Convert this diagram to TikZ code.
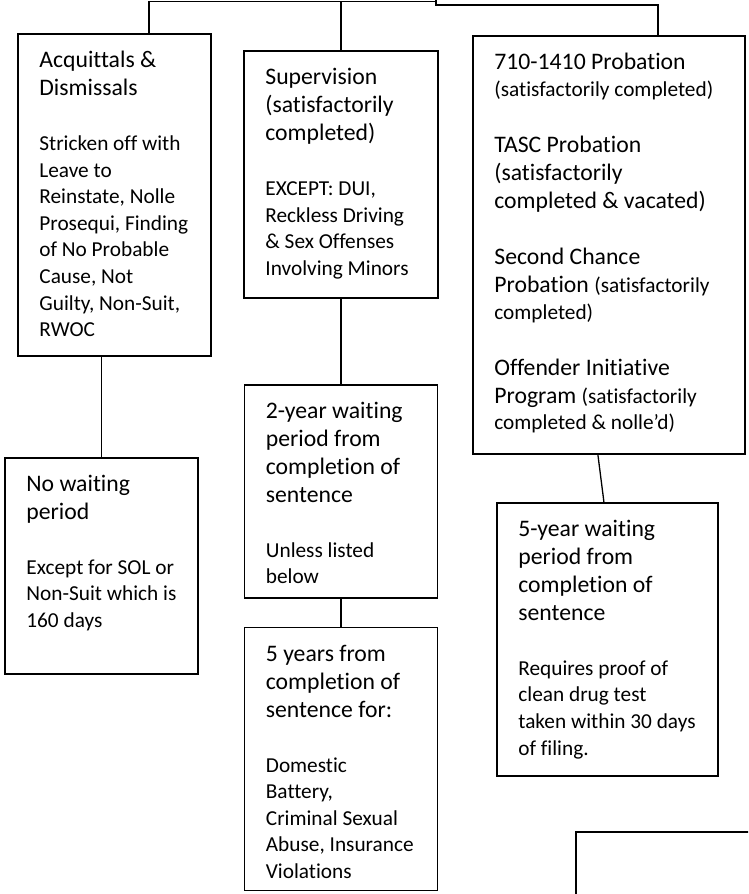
\documentclass[tikz,border=0pt]{standalone}
\usepackage{fontspec}
\setmainfont{Carlito}[Ligatures={NoCommon}]
\usetikzlibrary{calc}
\usetikzlibrary{positioning}

\newcommand{\headfont}{\fontsize{23.7}{28}\selectfont}
\newcommand{\notefont}{\fontsize{21.3}{26.6}\selectfont}
\newcommand{\boxtext}[3]{\parbox[t][#2][t]{#1}{\raggedright\leftskip=21.5pt\rule{0pt}{34pt}#3}}

\tikzset{
  stage/.style={draw, line width=1.8pt, inner sep=0pt, anchor=north west},
  link/.style={line width=1.3pt}
}

\begin{document}
\begin{tikzpicture}[x=1pt, y=-1pt]
  \useasboundingbox (0,0) rectangle (748,894);
  \clip (0,0) rectangle (748,894);

  \node [stage] (acq) at (17,33) {\boxtext{193pt}{322pt}{%
    {\headfont Acquittals \&\\ Dismissals\par}\vspace{28pt}
    {\notefont Stricken off with\\ Leave to\\ Reinstate, Nolle\\ Prosequi, Finding\\ of No Probable\\ Cause, Not\\ Guilty, Non-Suit,\\ RWOC\par}}};
  \node [stage] (sup) at (243,50) {\boxtext{194pt}{247pt}{%
    {\headfont Supervision\\ (satisfactorily\\ completed)\par}\vspace{28pt}
    {\notefont EXCEPT: DUI,\\ Reckless Driving\\ \& Sex Offenses\\ Involving Minors\par}}};
  \node [stage] (prob) at (472,35) {\boxtext{272pt}{418pt}{%
    {\headfont 710-1410 Probation\par}
    {\notefont (satisfactorily completed)\par}\vspace{28pt}
    {\headfont TASC Probation\\ (satisfactorily\\ completed \& vacated)\par}\vspace{28pt}
    {\headfont Second Chance\\ Probation {\notefont (satisfactorily}\par}
    {\notefont completed)\par}\vspace{28pt}
    {\headfont Offender Initiative\\ Program {\notefont (satisfactorily}\par}
    {\notefont completed \& nolle’d)\par}}};

  \node [stage, below=100pt of acq, xshift=-13pt] (nowait) {\boxtext{193pt}{216pt}{%
    {\headfont No waiting\\ period\par}\vspace{28pt}
    {\notefont Except for SOL or\\ Non-Suit which is\\ 160 days\par}}};
  \node [stage, below=85pt of sup] (wait2) {\boxtext{193pt}{213pt}{%
    {\headfont 2-year waiting\\ period from\\ completion of\\ sentence\par}\vspace{28pt}
    {\notefont Unless listed\\ below\par}}};
  \node [stage, below=28pt of wait2] (wait5yr) {\boxtext{193pt}{263pt}{%
    {\headfont 5 years from\\ completion of\\ sentence for:\par}\vspace{28pt}
    {\notefont Domestic\\ Battery,\\ Criminal Sexual\\ Abuse, Insurance\\ Violations\par}}};
  \node [stage, below=47pt of prob, xshift=-1.5pt] (wait5) {\boxtext{221pt}{273pt}{%
    {\headfont 5-year waiting\\ period from\\ completion of\\ sentence\par}\vspace{28pt}
    {\notefont Requires proof of\\ clean drug test\\ taken within 30 days\\ of filing.\par}}};

  % top bus
  \coordinate (bus) at (436,1.5);
  \coordinate (root) at (436,0);
  \draw [link] ([xshift=34.5pt]acq.north) |- (bus);
  \draw [link] (sup.north) -- (sup.north |- bus);
  \draw [link, line width=1.8pt] (root) |- ([xshift=49pt]prob.north |- 0,5) -- ([xshift=49pt]prob.north);

  % down the columns
  \draw [link] (nowait.north) -- (nowait.north |- acq.south);
  \draw [link] (sup.south) -- (wait2.north);
  \draw [link] (wait2.south) -- (wait5yr.north);
  \draw [link] ([xshift=-11pt]prob.south) -- ([xshift=-3.5pt]wait5.north);

  % next box, cut off
  \coordinate (next) at (576,832);
  \draw [line width=1.8pt] (next -| 760,0) -- (next) -- (next |- 0,900);

\end{tikzpicture}
\end{document}
